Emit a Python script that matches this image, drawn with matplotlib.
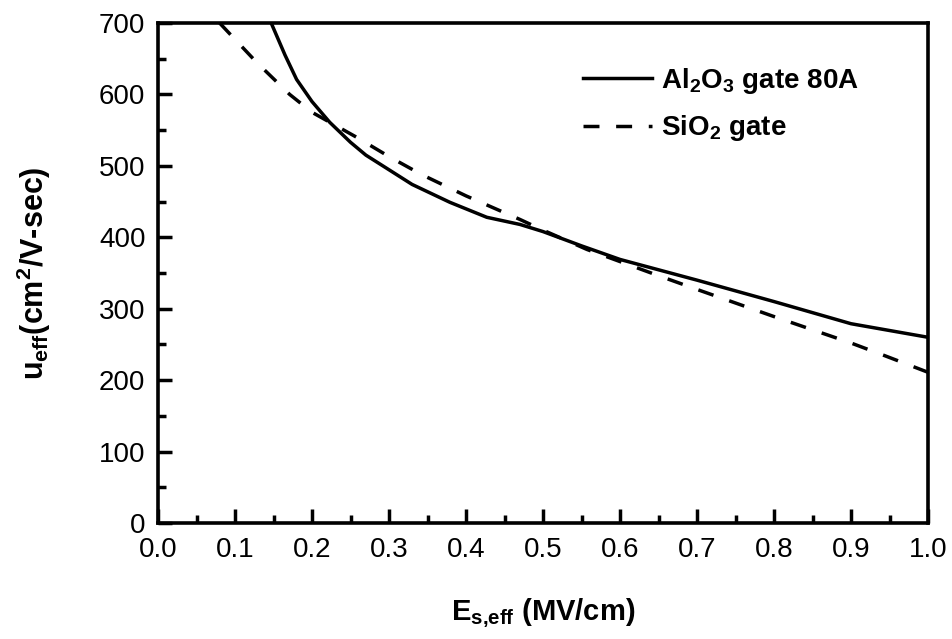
import numpy as np
import matplotlib
matplotlib.use("Agg")
import matplotlib.pyplot as plt
from matplotlib.ticker import MultipleLocator

plt.rcParams['font.family'] = ['Liberation Sans', 'DejaVu Sans']
plt.rcParams['mathtext.fontset'] = 'custom'
plt.rcParams['mathtext.rm'] = 'Liberation Sans'
plt.rcParams['mathtext.bf'] = 'Liberation Sans:bold'

# Al2O3 gate 80A (solid)
al_x = [0.147, 0.155, 0.165, 0.18, 0.20, 0.223, 0.25, 0.27, 0.292, 0.33, 0.379, 0.427,
        0.47, 0.50, 0.55, 0.60, 0.70, 0.80, 0.90, 1.00]
al_y = [700, 680, 655, 621, 590, 561, 533, 515, 500, 474, 449, 428,
        418, 408, 388, 369, 340, 310, 279, 260]

# SiO2 gate (dashed)
si_x = [0.08, 0.128, 0.171, 0.20, 0.258, 0.30, 0.342, 0.40, 0.47, 0.50, 0.557,
        0.60, 0.643, 0.70, 0.80, 0.90, 0.942, 1.00]
si_y = [700, 645, 600, 575, 540, 513, 488, 458, 425, 410, 383,
        366, 349, 327, 289, 252, 235, 211]

fig = plt.figure(figsize=(9.52, 6.39), dpi=100)
ax = fig.add_axes([158/952, 1-523/639, 770/952, 500/639])

lw = 2.5
ax.plot(al_x, al_y, color='black', lw=lw, label=r'Al$_{\mathbf{2}}$O$_{\mathbf{3}}$ gate 80A')
ax.plot(si_x, si_y, color='black', lw=lw, dashes=(4.6, 4.8),
        label=r'SiO$_{\mathbf{2}}$ gate')

ax.set_xlim(0, 1.0)
ax.set_ylim(0, 700)
ax.xaxis.set_major_locator(MultipleLocator(0.1))
ax.xaxis.set_minor_locator(MultipleLocator(0.05))
ax.yaxis.set_major_locator(MultipleLocator(100))
ax.yaxis.set_minor_locator(MultipleLocator(50))
ax.xaxis.set_major_formatter(matplotlib.ticker.FormatStrFormatter('%.1f'))

ax.tick_params(which='both', direction='in', top=False, right=False, width=2.5,
               labelsize=20)
ax.tick_params(which='major', length=10)
ax.tick_params(which='minor', length=5.5)
ax.tick_params(axis='x', pad=10)
ax.tick_params(axis='y', pad=9)
for s in ax.spines.values():
    s.set_linewidth(2.6)

ax.set_xlabel(r'E$_{\mathbf{s{,}eff}}$ (MV/cm)', fontsize=21, fontweight='bold', labelpad=24)
ax.set_ylabel(r'u$_{\mathbf{eff}}$(cm$^{\mathbf{2}}$/V-sec)', fontsize=22, fontweight='bold',
              labelpad=33)

leg = ax.legend(loc='upper left', bbox_to_anchor=((583-158)/770, 1-(66-23)/500),
                frameon=False, prop={'size': 20, 'weight': 'bold'},
                handlelength=2.5, handletextpad=0.3, labelspacing=0.62,
                borderaxespad=0, borderpad=0)

fig.savefig('out.png', dpi=100)
